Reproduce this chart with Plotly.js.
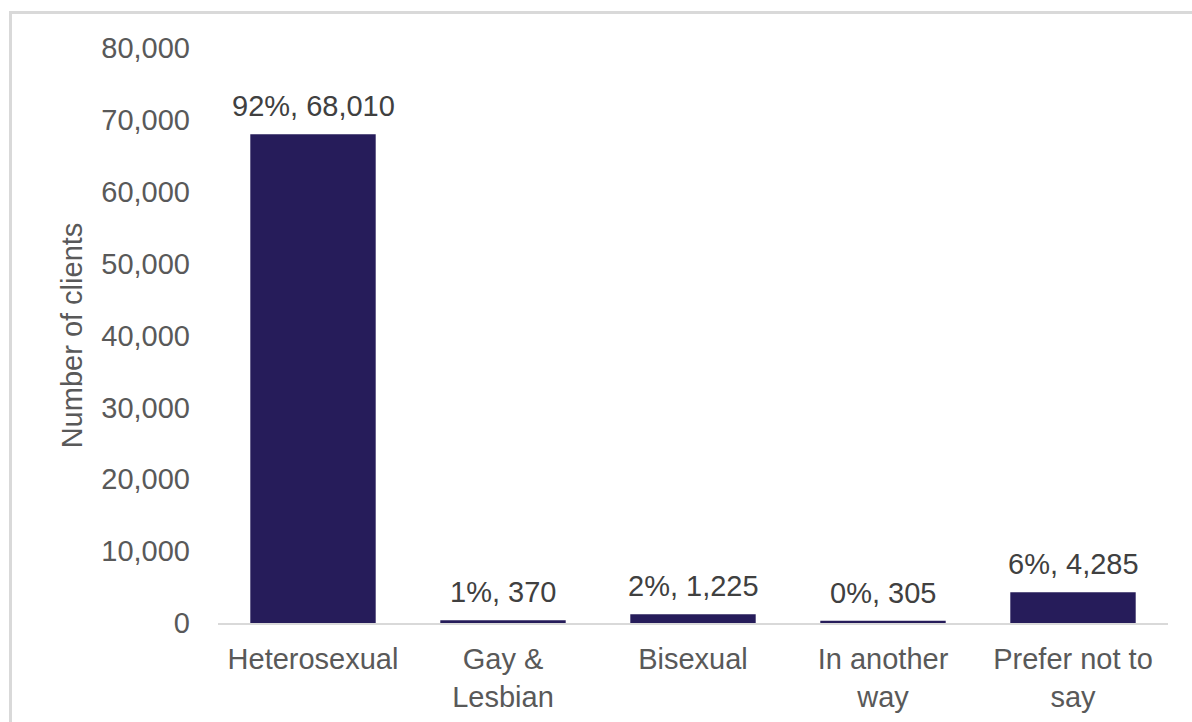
<!DOCTYPE html>
<html>
<head>
<meta charset="utf-8">
<script src="https://cdn.plot.ly/plotly-3.0.1.min.js"></script>
<style>
  html, body { margin: 0; padding: 0; overflow: hidden; background: #fff; }
  #chart { width: 1192px; height: 722px; }
  #frame { position: absolute; left: 9px; top: 11px; width: 1400px; height: 900px; border: 3px solid #d9d9d9; pointer-events: none; }
</style>
</head>
<body>
<div id="chart"></div>
<div id="frame"></div>
<script>
const categories = ["Heterosexual", "Gay &<br>Lesbian", "Bisexual", "In another<br>way", "Prefer not to<br>say"];
const clients = [68010, 370, 1225, 305, 4285];
const percents = [92, 1, 2, 0, 6];
const yTicks = [0, 10000, 20000, 30000, 40000, 50000, 60000, 70000, 80000];
const yTickLabels = ["0", "10,000", "20,000", "30,000", "40,000", "50,000", "60,000", "70,000", "80,000"];

const labels = clients.map((v, i) => percents[i] + "%, " + v.toLocaleString("en-US"));
const FONT = "Liberation Sans, Arial, sans-serif";

const trace = {
  type: "bar",
  x: categories,
  y: clients,
  marker: { color: "#261c5a", line: { width: 0 } },
  hoverinfo: "none"
};

const annotations = categories.map((c, i) => ({
  x: c,
  y: clients[i],
  xref: "x",
  yref: "y",
  text: labels[i],
  showarrow: false,
  yanchor: "bottom",
  yshift: 10,
  font: { family: FONT, size: 29, color: "#404040" }
}));

const layout = {
  width: 1192,
  height: 722,
  margin: { l: 218, r: 24, t: 48, b: 99 },
  paper_bgcolor: "#ffffff",
  plot_bgcolor: "#ffffff",
  bargap: 0.34,
  showlegend: false,
  font: { family: FONT, size: 29, color: "#595959" },
  annotations: annotations,
  xaxis: {
    type: "category",
    showgrid: false,
    showline: true,
    linecolor: "#d9d9d9",
    linewidth: 2,
    ticks: "",
    ticklabelstandoff: 9,
    tickfont: { size: 29, color: "#595959" },
    fixedrange: true
  },
  yaxis: {
    range: [0, 80000],
    tickvals: yTicks,
    ticktext: yTickLabels,
    showgrid: false,
    zeroline: false,
    showline: false,
    ticks: "",
    ticklabelstandoff: 27,
    tickfont: { size: 29, color: "#595959" },
    title: { text: "Number of clients", font: { size: 29, color: "#595959" }, standoff: 10 },
    fixedrange: true
  }
};

Plotly.newPlot("chart", [trace], layout, { displayModeBar: false, staticPlot: true });
</script>
</body>
</html>
